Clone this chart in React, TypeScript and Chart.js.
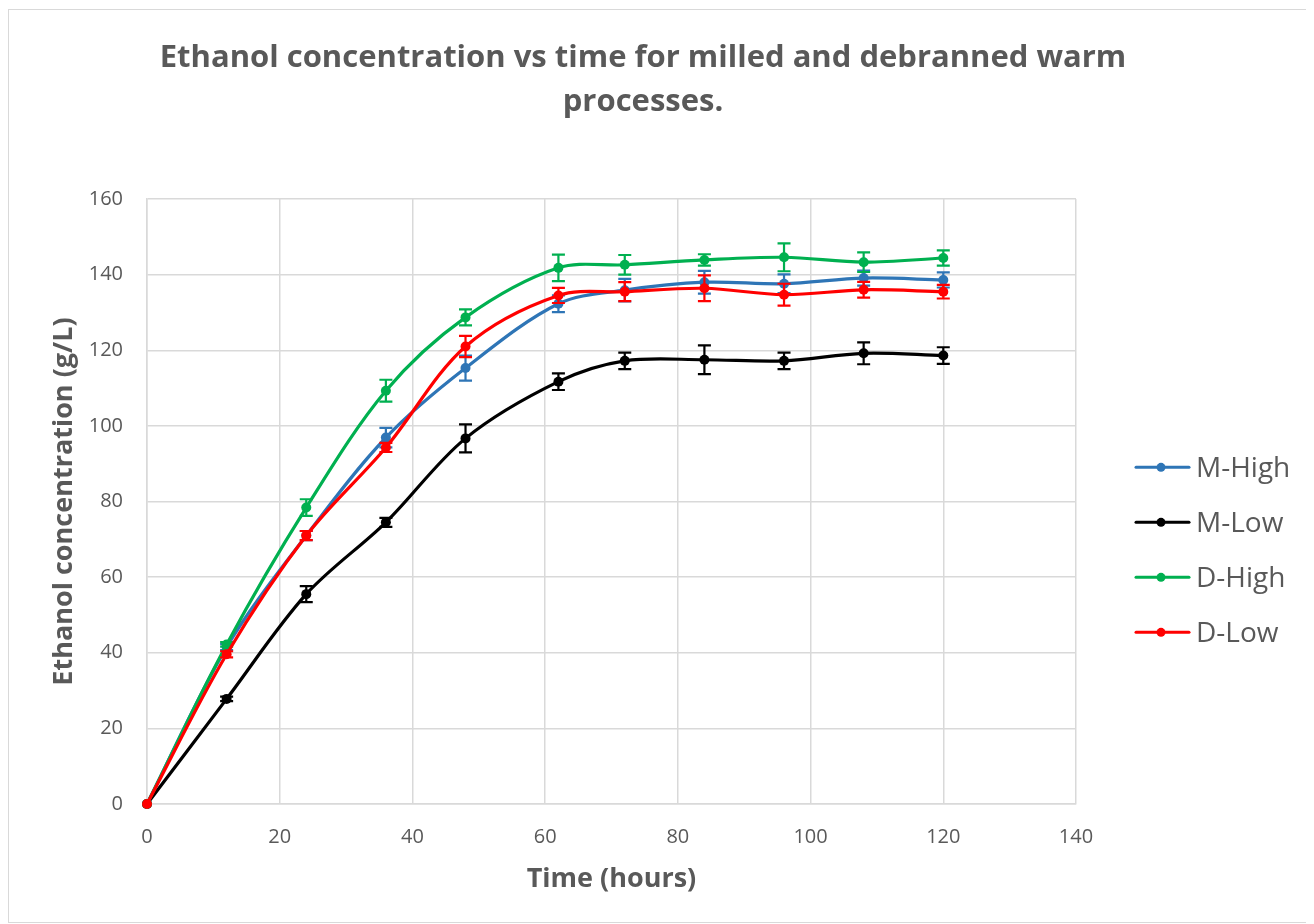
import React, { useEffect, useRef } from "react";
import { Chart, registerables } from "chart.js";

Chart.register(...registerables);

// ---- Data ----
const times = [0, 12, 24, 36, 48, 62, 72, 84, 96, 108, 120];

const mHigh = [0, 41.5, 71, 96.9, 115.3, 132.3, 135.9, 138, 137.6, 139.1, 138.6];
const mHighErr = [0, 0.8, 1.2, 2.6, 3.3, 2.2, 3.0, 3.0, 2.5, 2.0, 2.0];

const mLow = [0, 27.8, 55.5, 74.5, 96.7, 111.7, 117.2, 117.5, 117.2, 119.2, 118.6];
const mLowErr = [0, 0.6, 2.1, 1.2, 3.7, 2.2, 2.2, 3.8, 2.2, 2.9, 2.2];

const dHigh = [0, 42.2, 78.4, 109.3, 128.7, 141.8, 142.6, 143.9, 144.6, 143.3, 144.4];
const dHighErr = [0, 0.6, 2.2, 2.9, 2.1, 3.5, 2.6, 1.5, 3.7, 2.6, 2.0];

const dLow = [0, 39.6, 71, 94.3, 121, 134.5, 135.5, 136.4, 134.7, 136, 135.5];
const dLowErr = [0, 0.8, 1.2, 1.2, 2.8, 2.0, 2.5, 3.4, 2.9, 2.1, 1.8];

const seriesNames = ["M-High", "M-Low", "D-High", "D-Low"];
const seriesValues = [mHigh, mLow, dHigh, dLow];
const seriesErrors = [mHighErr, mLowErr, dHighErr, dLowErr];
const seriesColors = ["#2E75B6", "#000000", "#00B050", "#FF0000"];

const titleLines = ["Ethanol concentration vs time for milled and debranned warm", "processes."];
const xTitle = "Time (hours)";
const yTitle = "Ethanol concentration (g/L)";
const xRange = [0, 140, 20];
const yRange = [0, 160, 20];

const TEXT = "#595959";
const GRID = "#d9d9d9";
const FONT = "'Open Sans', 'Noto Sans', sans-serif";

const errorBarPlugin = {
  id: "errorBars",
  afterDatasetDraw(chart: any, args: any) {
    const ds: any = chart.data.datasets[args.index];
    const errs: number[] = ds.errors;
    if (!errs) return;
    const ys = chart.scales.y;
    const ctx = chart.ctx;
    ctx.save();
    ctx.strokeStyle = ds.borderColor;
    ctx.lineWidth = 2.2;
    args.meta.data.forEach((pt: any, i: number) => {
      const e = errs[i];
      if (!e) return;
      const v = ds.data[i].y;
      const top = ys.getPixelForValue(v + e);
      const bot = ys.getPixelForValue(v - e);
      const x = pt.x;
      const w = 6.5;
      ctx.beginPath();
      ctx.moveTo(x, top);
      ctx.lineTo(x, bot);
      ctx.moveTo(x - w, top);
      ctx.lineTo(x + w, top);
      ctx.moveTo(x - w, bot);
      ctx.lineTo(x + w, bot);
      ctx.stroke();
    });
    ctx.restore();
  },
};

const legendPlugin = {
  id: "sideLegend",
  afterDraw(chart: any) {
    const ctx = chart.ctx;
    const ca = chart.chartArea;
    const x0 = ca.right + 60;
    const midY = (ca.top + ca.bottom) / 2 + 48.3;
    ctx.save();
    seriesNames.forEach((name, i) => {
      const y = midY + (i - 1.5) * 55;
      ctx.strokeStyle = seriesColors[i];
      ctx.fillStyle = seriesColors[i];
      ctx.lineWidth = 3;
      ctx.lineCap = "round";
      ctx.beginPath();
      ctx.moveTo(x0, y);
      ctx.lineTo(x0 + 53, y);
      ctx.stroke();
      ctx.beginPath();
      ctx.arc(x0 + 25, y, 4.5, 0, Math.PI * 2);
      ctx.fill();
      ctx.fillStyle = TEXT;
      ctx.font = `28px ${FONT}`;
      ctx.textBaseline = "middle";
      ctx.textAlign = "left";
      ctx.fillText(name, x0 + 60, y + 2);
    });
    ctx.restore();
  },
};

export default function App() {
  const ref = useRef<HTMLCanvasElement | null>(null);

  useEffect(() => {
    if (!ref.current) return;
    const datasets = seriesNames.map((name, i) => ({
      label: name,
      data: times.map((t, j) => ({ x: t, y: seriesValues[i][j] })),
      errors: seriesErrors[i],
      borderColor: seriesColors[i],
      backgroundColor: seriesColors[i],
      pointBackgroundColor: seriesColors[i],
      pointBorderColor: seriesColors[i],
      pointRadius: 5,
      pointBorderWidth: 0,
      borderWidth: 3.2,
      tension: 0.33,
      order: 4 - i,
      clip: false as any,
    }));

    const chart = new Chart(ref.current, {
      type: "line",
      data: { datasets: datasets as any },
      plugins: [errorBarPlugin, legendPlugin],
      options: {
        animation: false,
        responsive: false,
        layout: { padding: { left: 0, right: 35, top: 0, bottom: 0 } },
        plugins: {
          legend: { display: false },
          tooltip: { enabled: false },
          title: {
            display: true,
            text: titleLines,
            color: TEXT,
            font: { family: FONT, size: 31, weight: "bold", lineHeight: 1.42 },
            padding: { top: 25.7, bottom: 75.3 },
          },
        },
        scales: {
          x: {
            type: "linear",
            min: xRange[0],
            max: xRange[1],
            ticks: {
              stepSize: xRange[2],
              color: TEXT,
              font: { family: FONT, size: 20 },
              padding: 21,
            },
            grid: { color: GRID, lineWidth: 1.5, drawTicks: false },
            border: { color: GRID, width: 1.5 },
            title: {
              display: true,
              text: xTitle,
              color: TEXT,
              font: { family: FONT, size: 27, weight: "bold" },
              padding: { top: 0, bottom: 26.5 },
            },
            afterFit(s: any) {
              s.height = 118;
            },
          },
          y: {
            type: "linear",
            min: yRange[0],
            max: yRange[1],
            ticks: {
              stepSize: yRange[2],
              color: TEXT,
              font: { family: FONT, size: 20 },
              padding: 24,
            },
            grid: { color: GRID, lineWidth: 1.5, drawTicks: false },
            border: { color: GRID, width: 1.5 },
            title: {
              display: true,
              text: yTitle,
              color: TEXT,
              font: { family: FONT, size: 27, weight: "bold" },
              padding: { top: 39.3, bottom: 0 },
            },
            afterFit(s: any) {
              s.width = 138;
            },
          },
          yR: {
            type: "linear",
            position: "right",
            display: true,
            grid: { display: false },
            ticks: { display: false },
            border: { display: false },
            afterFit(s: any) {
              s.width = 201;
            },
          },
        },
      } as any,
    });
    return () => chart.destroy();
  }, []);

  return (
    <div
      style={{
        width: 1303,
        height: 912,
        border: "1px solid #d9d9d9",
        marginTop: 1,
        background: "#fff",
      }}
    >
      <canvas ref={ref} width={1303} height={912} style={{ display: "block" }} />
    </div>
  );
}
